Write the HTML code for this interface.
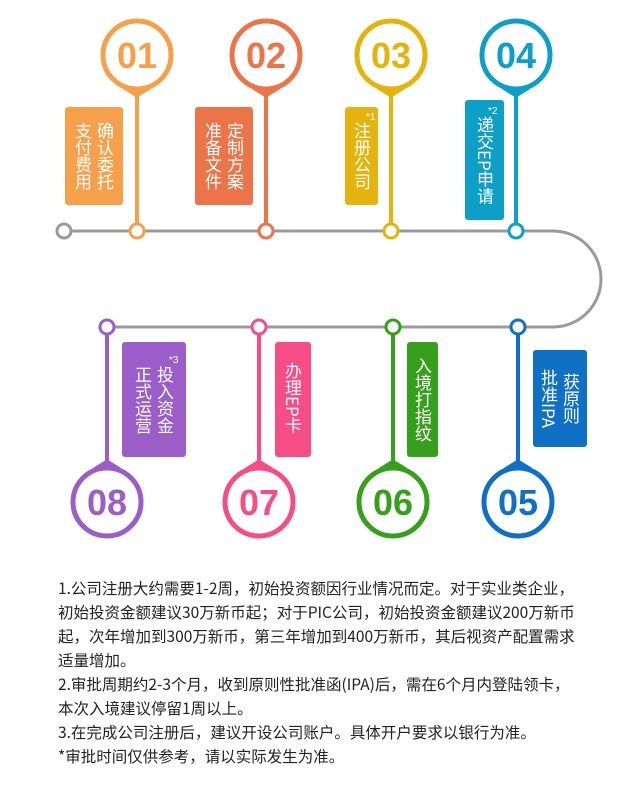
<!DOCTYPE html>
<html><head><meta charset="utf-8"><style>
body{margin:0;background:#fff;width:640px;height:804px;position:relative;overflow:hidden;font-family:"Liberation Sans","Noto Sans CJK SC",sans-serif}
.b{position:absolute;border-radius:3px;color:#fff;font-size:17px;line-height:22px;writing-mode:vertical-rl;text-align:center;font-family:"Noto Sans CJK SC",sans-serif;box-sizing:border-box;letter-spacing:0}
.s{position:absolute;color:#fff;font-size:10px;font-family:"Liberation Sans",sans-serif}
.t{position:absolute;left:58px;top:576px;font-size:15.5px;line-height:24px;color:#222;white-space:nowrap;font-family:"Noto Sans CJK SC",sans-serif}
</style></head><body>
<svg width="640" height="804" style="position:absolute;left:0;top:0">
<path d="M64 231 H553 A48 48 0 0 1 553 327 H107" fill="none" stroke="#9a9a9a" stroke-width="3"/>
<circle cx="64" cy="231" r="7" fill="#fff" stroke="#9a9a9a" stroke-width="3"/>
<g font-family="Liberation Sans,sans-serif" font-weight="bold" font-size="36" text-anchor="middle">
<g stroke="#f7a04b" fill="none" stroke-width="5"><circle cx="137" cy="55" r="34"/><path d="M124 88 L137 96 L150 88" fill="#f7a04b" stroke-width="3"/><line x1="137" y1="95" x2="137" y2="224" stroke-width="4"/><circle cx="137" cy="231" r="7" fill="#fff" stroke-width="3"/></g>
<text x="137" y="68" fill="#f7a04b">01</text>
<g stroke="#ec7449" fill="none" stroke-width="5"><circle cx="266" cy="55" r="34"/><path d="M253 88 L266 96 L279 88" fill="#ec7449" stroke-width="3"/><line x1="266" y1="95" x2="266" y2="224" stroke-width="4"/><circle cx="266" cy="231" r="7" fill="#fff" stroke-width="3"/></g>
<text x="266" y="68" fill="#ec7449">02</text>
<g stroke="#e4b30d" fill="none" stroke-width="5"><circle cx="391" cy="55" r="34"/><path d="M378 88 L391 96 L404 88" fill="#e4b30d" stroke-width="3"/><line x1="391" y1="95" x2="391" y2="224" stroke-width="4"/><circle cx="391" cy="231" r="7" fill="#fff" stroke-width="3"/></g>
<text x="391" y="68" fill="#e4b30d">03</text>
<g stroke="#0e9fc8" fill="none" stroke-width="5"><circle cx="516" cy="55" r="34"/><path d="M503 88 L516 96 L529 88" fill="#0e9fc8" stroke-width="3"/><line x1="516" y1="95" x2="516" y2="224" stroke-width="4"/><circle cx="516" cy="231" r="7" fill="#fff" stroke-width="3"/></g>
<text x="516" y="68" fill="#0e9fc8">04</text>
<g stroke="#9b5dc8" fill="none" stroke-width="5"><circle cx="107" cy="502" r="34"/><path d="M94 469 L107 461 L120 469" fill="#9b5dc8" stroke-width="3"/><line x1="107" y1="334" x2="107" y2="462" stroke-width="4"/><circle cx="107" cy="327" r="7" fill="#fff" stroke-width="3"/></g>
<text x="107" y="515" fill="#9b5dc8">08</text>
<g stroke="#f64d86" fill="none" stroke-width="5"><circle cx="259" cy="502" r="34"/><path d="M246 469 L259 461 L272 469" fill="#f64d86" stroke-width="3"/><line x1="259" y1="334" x2="259" y2="462" stroke-width="4"/><circle cx="259" cy="327" r="7" fill="#fff" stroke-width="3"/></g>
<text x="259" y="515" fill="#f64d86">07</text>
<g stroke="#36a01c" fill="none" stroke-width="5"><circle cx="393" cy="502" r="34"/><path d="M380 469 L393 461 L406 469" fill="#36a01c" stroke-width="3"/><line x1="393" y1="334" x2="393" y2="462" stroke-width="4"/><circle cx="393" cy="327" r="7" fill="#fff" stroke-width="3"/></g>
<text x="393" y="515" fill="#36a01c">06</text>
<g stroke="#1070c6" fill="none" stroke-width="5"><circle cx="518" cy="502" r="34"/><path d="M505 469 L518 461 L531 469" fill="#1070c6" stroke-width="3"/><line x1="518" y1="334" x2="518" y2="462" stroke-width="4"/><circle cx="518" cy="327" r="7" fill="#fff" stroke-width="3"/></g>
<text x="518" y="515" fill="#1070c6">05</text>
</g>
</svg>
<div class="b" style="left:65px;top:107px;width:58px;height:98px;background:#f7a04b;padding-right:7px">确认委托<br>支付费用</div>
<div class="b" style="left:195px;top:107px;width:58px;height:98px;background:#ec7449;padding-right:7px">定制方案<br>准备文件</div>
<div class="b" style="left:345px;top:107px;width:33px;height:98px;background:#e4b30d;padding-right:5px">注册公司</div>
<span class="s" style="left:366px;top:112px">*1</span>
<div class="b" style="left:465px;top:100px;width:39px;height:120px;background:#0e9fc8;padding-right:8px">递交EP申请</div>
<span class="s" style="left:488px;top:106px">*2</span>
<div class="b" style="left:122px;top:342px;width:64px;height:115px;background:#9b5dc8;padding-right:10px">投入资金<br>正式运营</div>
<span class="s" style="left:169px;top:355px">*3</span>
<div class="b" style="left:275px;top:342px;width:36px;height:115px;background:#f64d86;padding-right:7px;text-align:start;padding-top:20px">办理EP卡</div>
<div class="b" style="left:407px;top:342px;width:31px;height:115px;background:#36a01c;padding-right:4px">入境打指纹</div>
<div class="b" style="left:533px;top:350px;width:54px;height:97px;background:#1070c6;padding-right:5px">获原则<br>批准IPA</div>
<div class="t">1.公司注册大约需要1-2周，初始投资额因行业情况而定。对于实业类企业，<br>初始投资金额建议30万新币起；对于PIC公司，初始投资金额建议200万新币<br>起，次年增加到300万新币，第三年增加到400万新币，其后视资产配置需求<br>适量增加。<br>2.审批周期约2-3个月，收到原则性批准函(IPA)后，需在6个月内登陆领卡，<br>本次入境建议停留1周以上。<br>3.在完成公司注册后，建议开设公司账户。具体开户要求以银行为准。<br>*审批时间仅供参考，请以实际发生为准。</div>
</body></html>
